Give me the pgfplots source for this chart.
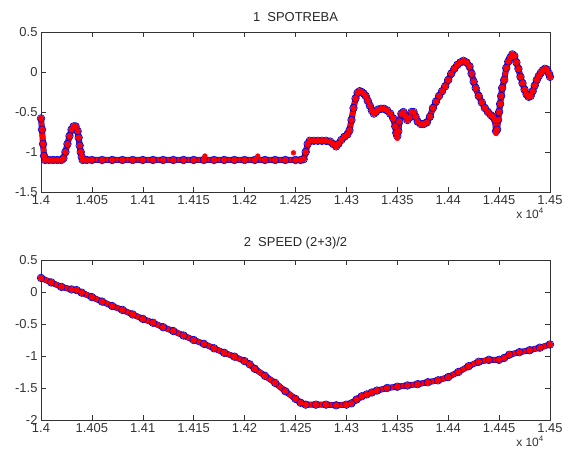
\documentclass[border=0pt]{standalone}
\usepackage{fontspec}
\setmainfont{Liberation Sans}
\usepackage{pgfplots}
\usepackage{pgfplotstable}
\pgfplotsset{compat=1.18}

% subplot 1: SPOTREBA
\pgfplotstableread{
x y
14000 -0.58
14001 -0.72
14002 -0.90
14003 -1.05
14004 -1.10
14008 -1.10
14012 -1.10
14016 -1.10
14020 -1.10
14022 -1.08
14024 -1.00
14026 -0.90
14028 -0.80
14030 -0.72
14032 -0.68
14034 -0.68
14036 -0.74
14037 -0.82
14038 -0.92
14039 -1.00
14040 -1.06
14041 -1.10
14045 -1.10
14050 -1.10
14060 -1.10
14070 -1.10
14080 -1.10
14090 -1.10
14100 -1.10
14110 -1.10
14120 -1.10
14130 -1.10
14140 -1.10
14150 -1.10
14160 -1.10
14170 -1.10
14180 -1.10
14190 -1.10
14200 -1.10
14210 -1.10
14220 -1.10
14230 -1.10
14240 -1.10
14250 -1.10
14255 -1.10
14258 -1.09
14260 -1.00
14262 -0.90
14264 -0.86
14268 -0.86
14272 -0.86
14276 -0.86
14280 -0.86
14284 -0.87
14287 -0.90
14290 -0.93
14292 -0.90
14295 -0.85
14298 -0.81
14301 -0.78
14303 -0.73
14305 -0.60
14307 -0.45
14309 -0.33
14311 -0.26
14313 -0.24
14315 -0.25
14317 -0.27
14319 -0.30
14321 -0.36
14323 -0.42
14325 -0.48
14327 -0.52
14329 -0.50
14331 -0.47
14334 -0.46
14337 -0.46
14340 -0.48
14343 -0.52
14346 -0.58
14348 -0.68
14349 -0.76
14350 -0.80
14351 -0.74
14352 -0.62
14354 -0.52
14356 -0.50
14358 -0.55
14360 -0.60
14362 -0.57
14364 -0.50
14366 -0.50
14368 -0.56
14370 -0.62
14373 -0.65
14376 -0.65
14379 -0.63
14382 -0.56
14385 -0.45
14388 -0.37
14391 -0.30
14394 -0.24
14397 -0.18
14400 -0.10
14403 -0.02
14406 0.04
14409 0.09
14412 0.12
14415 0.14
14418 0.12
14421 0.07
14423 -0.02
14425 -0.12
14427 -0.20
14430 -0.30
14433 -0.38
14436 -0.45
14439 -0.50
14442 -0.54
14444 -0.56
14446 -0.60
14447 -0.74
14448 -0.72
14449 -0.60
14450 -0.50
14451 -0.40
14452 -0.30
14453 -0.20
14455 -0.10
14457 0.05
14459 0.13
14461 0.18
14463 0.22
14465 0.20
14467 0.12
14469 0.04
14471 -0.06
14473 -0.14
14475 -0.22
14477 -0.28
14479 -0.31
14481 -0.30
14483 -0.24
14485 -0.17
14487 -0.10
14489 -0.05
14491 -0.01
14493 0.02
14495 0.04
14497 0.03
14499 -0.02
14500 -0.06
}\spotreba

% red outliers in subplot 1
\pgfplotstableread{
x y
14161 -1.05
14213 -1.05
14248 -1.01
14350 -0.83
14447 -0.77
}\spotout

% subplot 2: SPEED (2+3)/2
\pgfplotstableread{
x y
14000 0.22
14010 0.15
14020 0.08
14030 0.04
14035 0.03
14040 -0.01
14050 -0.08
14060 -0.15
14070 -0.22
14080 -0.28
14090 -0.35
14100 -0.42
14110 -0.48
14120 -0.55
14130 -0.61
14140 -0.68
14150 -0.75
14160 -0.81
14170 -0.88
14180 -0.95
14190 -1.01
14200 -1.08
14205 -1.13
14210 -1.20
14220 -1.31
14230 -1.42
14240 -1.55
14250 -1.67
14255 -1.73
14260 -1.76
14270 -1.76
14280 -1.76
14290 -1.77
14300 -1.76
14305 -1.74
14310 -1.68
14315 -1.63
14320 -1.60
14325 -1.57
14330 -1.54
14340 -1.50
14350 -1.48
14360 -1.46
14370 -1.44
14380 -1.41
14390 -1.38
14400 -1.33
14410 -1.25
14420 -1.16
14430 -1.09
14440 -1.06
14450 -1.06
14455 -1.03
14460 -0.98
14470 -0.94
14480 -0.91
14490 -0.87
14500 -0.82
}\speed

\pgfplotsset{
  mlab/.style={
    scale only axis, width=509bp, height=160bp,
    xmin=14000, xmax=14500,
    xtick={14000,14050,...,14500},
    xticklabels={1.4,1.405,1.41,1.415,1.42,1.425,1.43,1.435,1.44,1.445,1.45},
    scaled x ticks=false,
    tick align=inside, xtick pos=both, ytick pos=both,
    xticklabel pos=bottom, yticklabel pos=left,
    major tick length=5bp,
    tick style={black!80, line width=0.5bp},
    axis line style={black!80, line width=0.6bp},
    ticklabel style={font=\fontsize{13}{15}\selectfont, text=black!80},
    xticklabel style={yshift=0bp},
    /pgf/number format/assume math mode=true,
    title style={font=\fontsize{13}{15}\selectfont, text=black!85, yshift=1bp},
    clip=false,
  },
  blueo/.style={blue!85!black, line width=6bp, line join=round, line cap=round,
    mark=o, mark size=3.8bp, mark options={line width=0.7bp}},
  redd/.style={red, line width=5bp, line join=round, line cap=round,
    mark=*, mark size=2.8bp, mark options={line width=0.3bp}},
}

\begin{document}
\begin{tikzpicture}
\path[use as bounding box] (0,0) rectangle (564bp,464bp);

\begin{axis}[mlab, at={(41bp,272bp)}, anchor=south west,
  ymin=-1.5, ymax=0.5, ytick={-1.5,-1,-0.5,0,0.5},
  yticklabels={-1.5,-1,-0.5,0,0.5},
  title={1\ \ SPOTREBA}]
\addplot[blueo] table[x=x,y=y] {\spotreba};
\addplot[redd] table[x=x,y=y] {\spotreba};
\addplot[red, only marks, mark=*, mark size=2.4bp] table[x=x,y=y] {\spotout};
\node[anchor=north east, inner sep=0, font=\fontsize{12}{14}\selectfont, text=black!80]
  at (rel axis cs:1,0) [xshift=-6bp, yshift=-16bp] {x 10\textsuperscript{4}};
\end{axis}

\begin{axis}[mlab, at={(41bp,44bp)}, anchor=south west,
  ymin=-2, ymax=0.5, ytick={-2,-1.5,-1,-0.5,0,0.5},
  yticklabels={-2,-1.5,-1,-0.5,0,0.5},
  title={2\ \ SPEED (2+3)/2}]
\addplot[blueo] table[x=x,y=y] {\speed};
\addplot[redd] table[x=x,y=y] {\speed};
\node[anchor=north east, inner sep=0, font=\fontsize{12}{14}\selectfont, text=black!80]
  at (rel axis cs:1,0) [xshift=-6bp, yshift=-16bp] {x 10\textsuperscript{4}};
\end{axis}
\end{tikzpicture}
\end{document}
